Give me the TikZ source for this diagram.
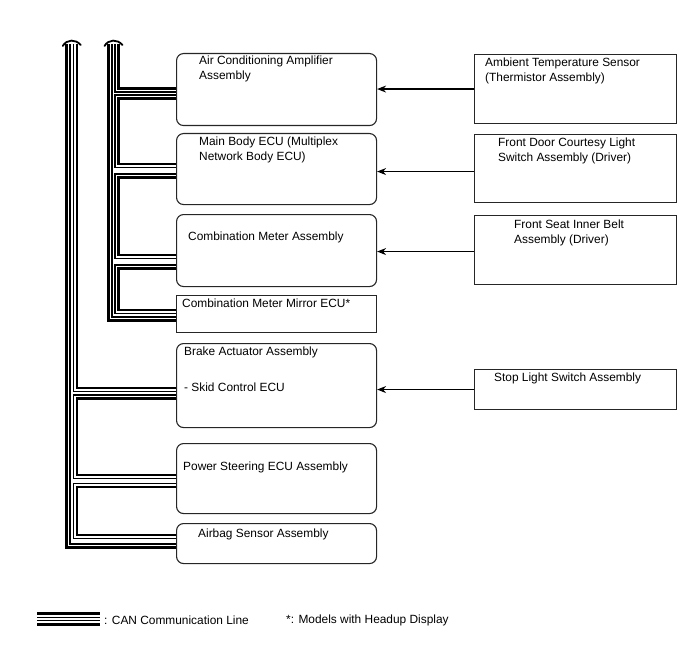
\documentclass[tikz,border=0pt]{standalone}
\usepackage{fontspec}
\setmainfont{Liberation Sans}
\usetikzlibrary{positioning, arrows.meta, calc}

\begin{document}
\begin{tikzpicture}[
    x=1pt, y=-1pt,
    ecu/.style={
        draw=black!85, rounded corners=7pt, line width=1.1pt,
        anchor=north west, minimum width=200pt, inner sep=0pt
    },
    flatecu/.style={ecu, sharp corners},
    sensor/.style={
        draw=black!85, line width=1.1pt,
        anchor=north west, minimum width=202pt, inner sep=0pt
    },
    lbl/.style={anchor=north west, inner sep=0pt, align=left, font=\fontsize{11.9}{15}\selectfont},
    arr/.style={-{Stealth[length=9pt,width=7pt]}, line width=1.1pt},
    thk/.style={line width=2.7pt},
    thn/.style={line width=1.1pt},
    brk/.style={line width=1.8pt, line cap=round},
]
\useasboundingbox (0,0) rectangle (688,658);

% ECUs on the bus
\node[ecu, minimum height=72pt] (acamp) at (176,53) {};
\node[ecu, minimum height=71pt] (mbecu) at (176,133) {};
\node[ecu, minimum height=72pt] (cmeter) at (176,214) {};
\node[flatecu, minimum height=37pt] (mirror) at (176,295) {};
\node[ecu, minimum height=84pt] (brake) at (176,343) {};
\node[ecu, minimum height=70pt] (psteer) at (176,443) {};
\node[ecu, minimum height=40pt] (airbag) at (176,523) {};

\node[lbl] (acampL) at ([xshift=23,yshift=-3]acamp.north west) {Air Conditioning Amplifier\\Assembly};
\node[lbl] (mbecuL) at ([xshift=23,yshift=-4]mbecu.north west) {Main Body ECU (Multiplex\\Network Body ECU)};
\node[lbl] (cmeterL) at ([xshift=12,yshift=-18]cmeter.north west) {Combination Meter Assembly};
\node[lbl] (mirrorL) at ([xshift=6,yshift=-4]mirror.north west) {Combination Meter Mirror ECU*};
\node[lbl] (brakeL) at ([xshift=8,yshift=-4]brake.north west) {Brake Actuator Assembly\\[21pt]- Skid Control ECU};
\node[lbl] (psteerL) at ([xshift=7,yshift=-19]psteer.north west) {Power Steering ECU Assembly};
\node[lbl] (airbagL) at ([xshift=22,yshift=-6]airbag.north west) {Airbag Sensor Assembly};

% Sensors and switches
\node[sensor, minimum height=69pt] (ambsen) at (474,54) {};
\node[sensor, minimum height=68pt] (doorsw) at (474,134) {};
\node[sensor, minimum height=69pt] (beltsw) at (474,215) {};
\node[sensor, minimum height=40pt] (stopsw) at (474,369) {};

\node[lbl] (ambsenL) at ([xshift=11,yshift=-4]ambsen.north west) {Ambient Temperature Sensor\\(Thermistor Assembly)};
\node[lbl] (doorswL) at ([xshift=24,yshift=-4]doorsw.north west) {Front Door Courtesy Light\\Switch Assembly (Driver)};
\node[lbl] (beltswL) at ([xshift=40,yshift=-5]beltsw.north west) {Front Seat Inner Belt\\Assembly (Driver)};
\node[lbl] (stopswL) at ([xshift=20,yshift=-4]stopsw.north west) {Stop Light Switch Assembly};

% Signals into the ECUs
\draw[arr] (ambsen.west) -- (ambsen.west -| acamp.east);
\draw[arr] ([yshift=-3]doorsw.west) -- ([yshift=-3]doorsw.west -| mbecu.east);
\draw[arr] ([yshift=-1.5]beltsw.west) -- ([yshift=-1.5]beltsw.west -| cmeter.east);
\draw[arr] (stopsw.west) -- (stopsw.west -| brake.east);

% Bus ends (break marks)
\coordinate (lcap) at (71.75,43);
\coordinate (rcap) at (113.5,43);
\draw[brk] ([xshift=-9,yshift=-3]lcap) .. controls ([xshift=-5,yshift=4]lcap) and ([xshift=4,yshift=4]lcap) .. ([xshift=9,yshift=-2]lcap);
\draw[brk] ([xshift=-9,yshift=-3]rcap) .. controls ([xshift=-5,yshift=4]rcap) and ([xshift=4,yshift=4]rcap) .. ([xshift=9,yshift=-2]rcap);

% CAN bus (right): trunk
\draw[thk] ([xshift=-5,yshift=-1]rcap) |- ([yshift=-25.5]mirror.north west);
\draw[thn] ([xshift=-1.5,yshift=-1]rcap) |- ([yshift=-22]mirror.north west);
% CAN bus (right): chain through the ECUs
\draw[thk] ([xshift=5,yshift=-1]rcap) |- ([yshift=-35.5]acamp.north west);
\draw[thk] ([yshift=-45.5]acamp.north west) -- ++(-57.5,0) |- ([yshift=-31]mbecu.north west);
\draw[thk] ([yshift=-44.5]mbecu.north west) -- ++(-57.5,0) |- ([yshift=-41]cmeter.north west);
\draw[thk] ([yshift=-54.5]cmeter.north west) -- ++(-57.5,0) |- ([yshift=-15]mirror.north west);
\draw[thn] ([xshift=1.5,yshift=-1]rcap) |- ([yshift=-39]acamp.north west);
\draw[thn] ([yshift=-42]acamp.north west) -- ++(-61,0) |- ([yshift=-34.5]mbecu.north west);
\draw[thn] ([yshift=-41]mbecu.north west) -- ++(-61,0) |- ([yshift=-44.5]cmeter.north west);
\draw[thn] ([yshift=-51]cmeter.north west) -- ++(-61,0) |- ([yshift=-18.5]mirror.north west);

% CAN bus (left): trunk
\draw[thk] ([xshift=-5.25,yshift=-1]lcap) |- ([yshift=-24.5]airbag.north west);
\draw[thn] ([xshift=-1.75,yshift=-1]lcap) |- ([yshift=-21]airbag.north west);
% CAN bus (left): chain through the ECUs
\draw[thk] ([xshift=5.25,yshift=-1]lcap) |- ([yshift=-45]brake.north west);
\draw[thk] ([yshift=-55.5]brake.north west) -- ++(-99,0) |- ([yshift=-32]psteer.north west);
\draw[thk] ([yshift=-44]psteer.north west) -- ++(-99,0) |- ([yshift=-12]airbag.north west);
\draw[thn] ([xshift=1.75,yshift=-1]lcap) |- ([yshift=-48.5]brake.north west);
\draw[thn] ([yshift=-52]brake.north west) -- ++(-102.5,0) |- ([yshift=-35.5]psteer.north west);
\draw[thn] ([yshift=-40.5]psteer.north west) -- ++(-102.5,0) |- ([yshift=-15.5]airbag.north west);

% Legend
\coordinate (legA) at (37,619);
\coordinate (legB) at (100,619);
\draw[thk] ([yshift=5.25]legA) -- ([yshift=5.25]legB);
\draw[thn] ([yshift=1.75]legA) -- ([yshift=1.75]legB);
\draw[thn] ([yshift=-1.75]legA) -- ([yshift=-1.75]legB);
\draw[thk] ([yshift=-5.25]legA) -- ([yshift=-5.25]legB);
\node[lbl, anchor=west] (legcan) at (104,620) {: CAN Communication Line};
\node[lbl, anchor=west] (legnote) at (286,620) {*: Models with Headup Display};

\end{tikzpicture}
\end{document}
